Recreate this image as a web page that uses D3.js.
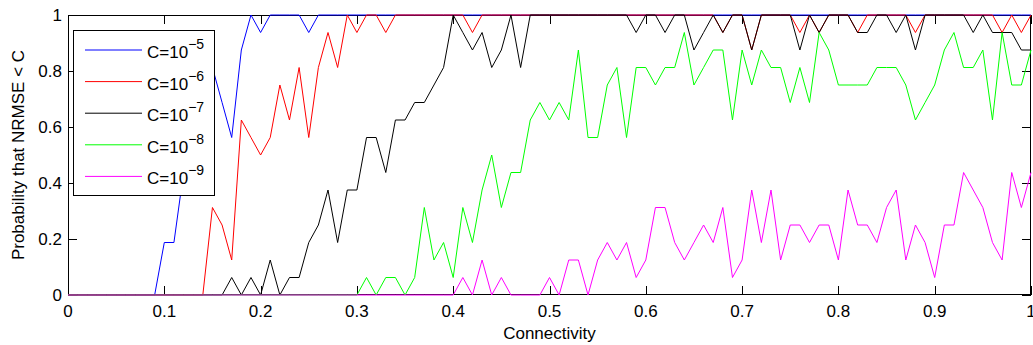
<!DOCTYPE html>
<html>
<head>
<meta charset="utf-8">
<script src="https://cdn.jsdelivr.net/npm/d3@7"></script>
<style>
  html, body { margin: 0; padding: 0; background: #fff; }
  svg { display: block; font-family: "Liberation Sans", Arial, sans-serif; }
</style>
</head>
<body>
<svg id="chart" width="1033" height="345"></svg>
<script>
// Number of random networks tried at each connectivity level
const RUNS = 16;

// Connectivity sampled from 0 to 1 in steps of 0.01
const connectivity = d3.range(101).map(i => i / 100);

// Successful runs (NRMSE below threshold C) out of RUNS, per connectivity value
const hitsC5 = [0,0,0,0,0,0,0,0,0,0, 3,3,7,10,12,13,11,9,14,16, 15,16,16,16,16,15,16,16,16,16,
  16,16,16,16,16,16,16,16,16,16, 16,16,16,16,16,16,16,16,16,16, 16,16,16,16,16,16,16,16,16,16,
  16,16,16,16,16,16,16,16,16,16, 16,16,16,16,16,16,16,16,16,16, 16,16,16,16,16,16,16,16,16,16,
  16,16,16,16,16,16,16,16,16,16, 16];
const hitsC6 = [0,0,0,0,0,0,0,0,0,0, 0,0,0,0,0,5,4,2,10,9, 8,9,12,10,13,9,13,15,13,16,
  15,16,16,15,16,16,16,16,16,16, 16,16,15,16,16,16,16,16,16,16, 16,16,16,16,16,16,16,16,16,16,
  16,16,16,16,16,16,16,16,15,16, 16,14,16,16,16,16,15,16,15,16, 16,16,15,16,16,16,16,16,15,16,
  16,16,16,16,16,16,16,15,16,15, 16];
const hitsC7 = [0,0,0,0,0,0,0,0,0,0, 0,0,0,0,0,0,0,1,0,1, 0,2,0,1,1,3,4,6,3,6,
  6,9,9,7,10,10,11,11,12,13, 16,15,14,15,13,14,16,13,16,16, 16,16,16,16,16,16,16,16,16,15,
  16,16,15,16,16,14,15,16,15,16, 16,14,16,16,16,16,14,16,15,16, 16,16,15,15,16,16,15,16,14,16,
  16,16,16,16,15,16,15,15,15,14, 14];
const hitsC8 = [0,0,0,0,0,0,0,0,0,0, 0,0,0,0,0,0,0,0,0,0, 0,0,0,0,0,0,0,0,0,0,
  0,1,0,1,1,0,1,5,2,3, 1,5,3,6,8,5,7,7,10,11, 10,11,10,14,9,9,12,13,9,13,
  13,12,13,13,15,12,13,14,14,10, 14,12,14,13,13,11,13,11,15,14, 12,12,12,12,13,13,13,12,10,11,
  12,14,15,13,13,14,10,15,12,12, 14];
const hitsC9 = [0,0,0,0,0,0,0,0,0,0, 0,0,0,0,0,0,0,0,0,0, 0,0,0,0,0,0,0,0,0,0,
  0,0,0,0,0,0,0,0,0,0, 0,1,0,2,0,1,0,0,0,0, 1,0,2,2,0,2,3,2,3,1,
  2,5,5,3,2,3,4,3,5,1, 2,6,3,6,2,4,4,3,4,4, 2,6,4,4,3,5,6,2,4,3,
  1,4,4,7,6,5,3,2,7,5, 7];

const seriesNames = ["C=10", "C=10", "C=10", "C=10", "C=10"];
const seriesExponents = ["\u22125", "\u22126", "\u22127", "\u22128", "\u22129"];
const seriesHits = [hitsC5, hitsC6, hitsC7, hitsC8, hitsC9];
const seriesColors = ["#0000ff", "#ff0000", "#000000", "#00ff00", "#ff00ff"];

const xTicks = [0, 0.1, 0.2, 0.3, 0.4, 0.5, 0.6, 0.7, 0.8, 0.9, 1];
const xTickLabels = ["0", "0.1", "0.2", "0.3", "0.4", "0.5", "0.6", "0.7", "0.8", "0.9", "1"];
const yTicks = [0, 0.2, 0.4, 0.6, 0.8, 1];
const yTickLabels = ["0", "0.2", "0.4", "0.6", "0.8", "1"];

const xLabel = "Connectivity";
const yLabel = "Probability that NRMSE < C";

// Layout
const L = 68, R = 1031, T = 15, B = 295;
const tickLen = 9;
const fontSize = 17;

const svg = d3.select("#chart");
const x = d3.scaleLinear().domain([0, 1]).range([L, R]);
const y = d3.scaleLinear().domain([0, 1]).range([B, T]);

// Axes background
svg.append("rect").attr("x", L).attr("y", T).attr("width", R - L).attr("height", B - T)
  .attr("fill", "#fff");

// Inward ticks on all four sides
const axisG = svg.append("g").attr("stroke", "#000").attr("stroke-width", 1);
xTicks.forEach(t => {
  const px = Math.round(x(t)) + 0.5;
  axisG.append("line").attr("x1", px).attr("x2", px).attr("y1", B).attr("y2", B - tickLen);
  axisG.append("line").attr("x1", px).attr("x2", px).attr("y1", T).attr("y2", T + tickLen);
});
yTicks.forEach(t => {
  const py = Math.round(y(t)) + 0.5;
  axisG.append("line").attr("x1", L).attr("x2", L + tickLen).attr("y1", py).attr("y2", py);
  axisG.append("line").attr("x1", R).attr("x2", R - tickLen).attr("y1", py).attr("y2", py);
});

// Axes box
svg.append("rect").attr("x", L + 0.5).attr("y", T + 0.5)
  .attr("width", R - L - 1).attr("height", B - T - 1)
  .attr("fill", "none").attr("stroke", "#000").attr("stroke-width", 1);

// Tick labels
svg.append("g").selectAll("text").data(xTicks).join("text")
  .attr("x", d => x(d)).attr("y", B + 22)
  .attr("text-anchor", "middle").attr("font-size", fontSize).attr("fill", "#000")
  .text((d, i) => xTickLabels[i]);
svg.append("g").selectAll("text").data(yTicks).join("text")
  .attr("x", L - 6).attr("y", d => y(d) + 6)
  .attr("text-anchor", "end").attr("font-size", fontSize).attr("fill", "#000")
  .text((d, i) => yTickLabels[i]);

// Axis titles
svg.append("text").attr("x", (L + R) / 2).attr("y", 339)
  .attr("text-anchor", "middle").attr("font-size", fontSize).attr("fill", "#000")
  .text(xLabel);
svg.append("text").attr("transform", `translate(24,${(T + B) / 2}) rotate(-90)`)
  .attr("text-anchor", "middle").attr("font-size", fontSize).attr("fill", "#000")
  .text(yLabel);

// Data lines
const line = d3.line()
  .x((d, i) => x(connectivity[i]))
  .y(d => y(d / RUNS));
const plotG = svg.append("g");
seriesHits.forEach((hits, k) => {
  plotG.append("path").datum(hits)
    .attr("d", line)
    .attr("fill", "none")
    .attr("stroke", seriesColors[k])
    .attr("stroke-width", 1);
});

// Legend
const lg = svg.append("g");
lg.append("rect").attr("x", 73.5).attr("y", 30.5).attr("width", 141).attr("height", 165)
  .attr("fill", "#fff").attr("stroke", "#000").attr("stroke-width", 1);
seriesNames.forEach((name, k) => {
  const ly = 50 + k * 31.6;
  lg.append("line").attr("x1", 85).attr("x2", 142).attr("y1", ly).attr("y2", ly)
    .attr("stroke", seriesColors[k]).attr("stroke-width", 1);
  const t = lg.append("text").attr("x", 147).attr("y", ly + 8)
    .attr("font-size", fontSize).attr("fill", "#000");
  t.append("tspan").text(name);
  t.append("tspan").attr("dy", -9).attr("font-size", 14).text(seriesExponents[k]);
});
</script>
</body>
</html>
